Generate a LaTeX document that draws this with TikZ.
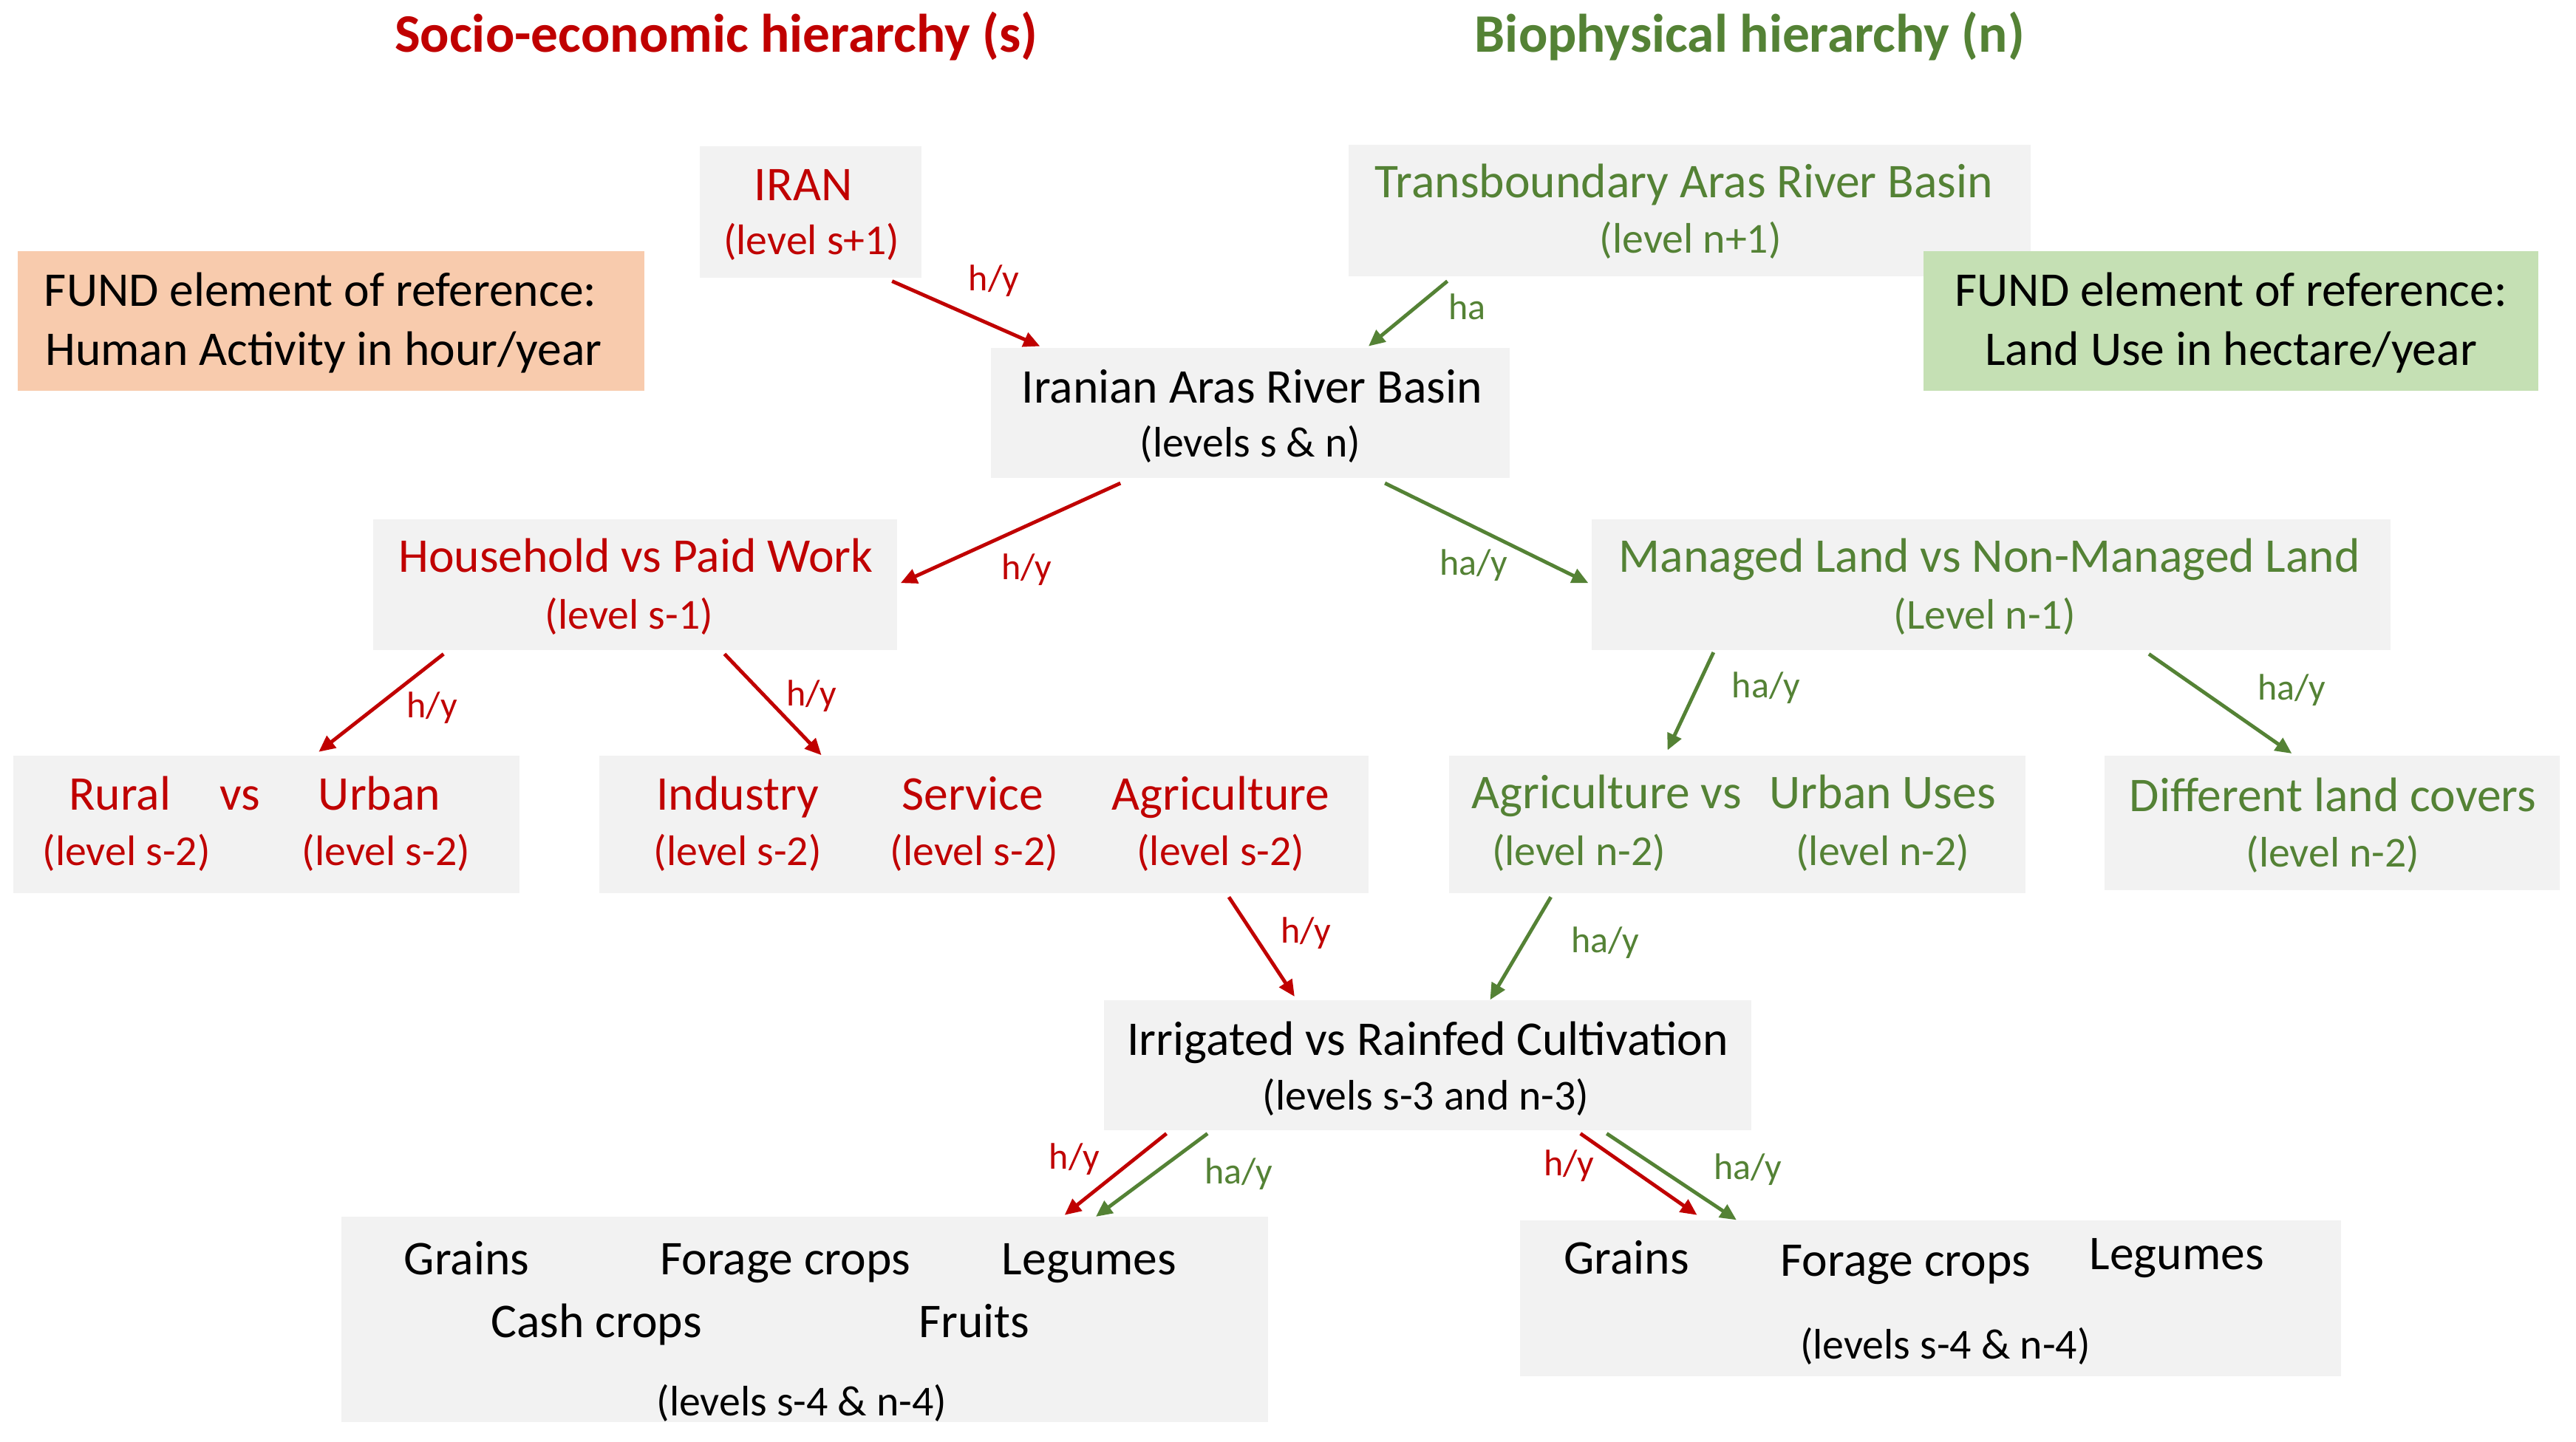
\documentclass[tikz,border=0pt]{standalone}
\usepackage{fontspec}
\setmainfont{Carlito}
\usetikzlibrary{arrows.meta,calc}
\definecolor{rd}{HTML}{C00000}
\definecolor{gn}{HTML}{548235}
\definecolor{bx}{HTML}{F2F2F2}
\definecolor{org}{HTML}{F8CBAD}
\definecolor{lg}{HTML}{C5E0B4}
\begin{document}
\begin{tikzpicture}[x=1pt,y=-1pt,
  box/.style={fill=bx, inner sep=0, draw=none},
  txt/.style={inner sep=0, anchor=base, font=\fontsize{29.5}{35}\selectfont},
  lvl/.style={inner sep=0, anchor=base, font=\fontsize{26}{31}\selectfont},
  lab/.style={inner sep=0, font=\fontsize{22.5}{27}\selectfont},
  ttl/.style={inner sep=0, font=\fontsize{33}{40}\selectfont\bfseries},
  redarr/.style={draw=rd, line width=2.2pt, -{Triangle[length=10pt,width=9pt]}},
  grnarr/.style={draw=gn, line width=2.2pt, -{Triangle[length=10pt,width=9pt]}}]
\useasboundingbox (0,0) rectangle (1568,877.6);
\fill[white] (0,0) rectangle (1568,877.6);

% titles
\node[ttl, text=rd] (t1) at (436,22) {Socio-economic hierarchy (s)};
\node[ttl, text=gn] (t2) at (1065,22) {Biophysical hierarchy (n)};

% boxes
\node[box, minimum width=135pt, minimum height=80pt] (iran) at (493.5,129) {};
\node[box, fill=org, minimum width=381pt, minimum height=85pt] (fundS) at (201.5,195.5) {};
\node[box, minimum width=415pt, minimum height=80pt] (trans) at (1028.5,128) {};
\node[box, fill=lg, minimum width=374pt, minimum height=85pt] (fundN) at (1358,195.5) {};
\node[box, minimum width=316pt, minimum height=79pt] (basin) at (761,251.5) {};
\node[box, minimum width=319pt, minimum height=80pt] (house) at (386.5,356) {};
\node[box, minimum width=486pt, minimum height=80pt] (managed) at (1212,356) {};
\node[box, minimum width=308pt, minimum height=84pt] (rural) at (162,502) {};
\node[box, minimum width=468pt, minimum height=84pt] (isa) at (599,502) {};
\node[box, minimum width=351pt, minimum height=84pt] (agurb) at (1057.5,502) {};
\node[box, minimum width=277pt, minimum height=82pt] (diff) at (1419.5,501) {};
\node[box, minimum width=394pt, minimum height=79pt] (irr) at (869,648.5) {};
\node[box, minimum width=564pt, minimum height=125pt] (cropsA) at (490,803.5) {};
\node[box, minimum width=500pt, minimum height=95pt] (cropsB) at (1175,790.5) {};

% texts
\node[txt, text=rd] (iranA) at (489,122) {IRAN};
\node[lvl, text=rd] (iranB) at (494,155) {(level s+1)};
\node[txt] (fundSA) at (195,186.5) {FUND element of reference:};
\node[txt] (fundSB) at (197,222.5) {Human Activity in hour/year};
\node[txt, text=gn] (transA) at (1025,120.5) {Transboundary Aras River Basin};
\node[lvl, text=gn] (transB) at (1029,154) {(level n+1)};
\node[txt] (fundNA) at (1358,186.5) {FUND element of reference:};
\node[txt] (fundNB) at (1358,222.5) {Land Use in hectare/year};
\node[txt] (basinA) at (762,245.5) {Iranian Aras River Basin};
\node[lvl] (basinB) at (761,278) {(levels s \& n)};
\node[txt, text=rd] (houseA) at (387,348.5) {Household vs Paid Work};
\node[lvl, text=rd] (houseB) at (383,383) {(level s-1)};
\node[txt, text=gn] (managedA) at (1211,348.5) {Managed Land vs Non-Managed Land};
\node[lvl, text=gn] (managedB) at (1208,383) {(Level n-1)};

\node[txt, text=rd] (ruralA) at (73,493) {Rural};
\node[txt, text=rd] (ruralV) at (146,493) {vs};
\node[txt, text=rd] (urbanA) at (231,493) {Urban};
\node[lvl, text=rd] (ruralB) at (77,527) {(level s-2)};
\node[lvl, text=rd] (urbanB) at (235,527) {(level s-2)};

\node[txt, text=rd] (indA) at (449,493) {Industry};
\node[txt, text=rd] (serA) at (592,493) {Service};
\node[txt, text=rd] (agrA) at (743,493) {Agriculture};
\node[lvl, text=rd] (indB) at (449,527) {(level s-2)};
\node[lvl, text=rd] (serB) at (593,527) {(level s-2)};
\node[lvl, text=rd] (agrB) at (743,527) {(level s-2)};

\node[txt, text=gn] (agA) at (978,492.5) {Agriculture vs};
\node[txt, text=gn] (urA) at (1146,492.5) {Urban Uses};
\node[lvl, text=gn] (agB) at (961,527) {(level n-2)};
\node[lvl, text=gn] (urB) at (1146,527) {(level n-2)};

\node[txt, text=gn] (diffA) at (1420,494) {Different land covers};
\node[lvl, text=gn] (diffB) at (1420,528) {(level n-2)};

\node[txt] (irrA) at (869,642.5) {Irrigated vs Rainfed Cultivation};
\node[lvl] (irrB) at (868,676) {(levels s-3 and n-3)};

\node[txt] (c1) at (284,776) {Grains};
\node[txt] (c2) at (478,776) {Forage crops};
\node[txt] (c3) at (663,776) {Legumes};
\node[txt] (c4) at (363,814.5) {Cash crops};
\node[txt] (c5) at (593,814.5) {Fruits};
\node[lvl] (c6) at (488,862) {(levels s-4 \& n-4)};

\node[txt] (d1) at (990,775.5) {Grains};
\node[txt] (d2) at (1160,777) {Forage crops};
\node[txt] (d3) at (1325,773) {Legumes};
\node[lvl] (d4) at (1184,827.5) {(levels s-4 \& n-4)};

% connectors
\draw[redarr] ($(iran.south)+(49.5,2)$) -- ($(basin.north)+(-128,-1)$);
\node[lab, text=rd] (l1) at (605,171) {h/y};
\draw[grnarr] ($(trans.south)+(-147.5,3)$) -- ($(basin.north)+(72,-1)$);
\node[lab, text=gn] (l2) at (893,187) {ha};
\draw[redarr] ($(basin.south)+(-79,3)$) -- ($(house.east)+(2,-1)$);
\node[lab, text=rd] (l3) at (625,347) {h/y};
\draw[grnarr] ($(basin.south)+(82,3)$) -- ($(managed.west)+(-2,-1)$);
\node[lab, text=gn] (l4) at (897,344) {ha/y};
\draw[redarr] ($(house.south)+(-116.5,2)$) -- ($(rural.north)+(32,-2)$);
\node[lab, text=rd] (l5) at (263,431) {h/y};
\draw[redarr] ($(house.south)+(54.5,2)$) -- ($(isa.north)+(-99,0)$);
\node[lab, text=rd] (l6) at (494,424) {h/y};
\draw[grnarr] ($(managed.south)+(-169,1)$) -- ($(agurb.north)+(-42.5,-3)$);
\node[lab, text=gn] (l7) at (1075,419) {ha/y};
\draw[grnarr] ($(managed.south)+(96,2)$) -- ($(diff.north)+(-24.5,-1)$);
\node[lab, text=gn] (l8) at (1395,420) {ha/y};
\draw[redarr] ($(isa.south)+(149,2)$) -- ($(irr.north)+(-81,-2)$);
\node[lab, text=rd] (l9) at (795,568) {h/y};
\draw[grnarr] ($(agurb.south)+(-113.5,2)$) -- ($(irr.north)+(38,0)$);
\node[lab, text=gn] (l10) at (977,574) {ha/y};
\draw[redarr] ($(irr.south)+(-159,2)$) -- ($(cropsA.north)+(158,-1)$);
\node[lab, text=rd] (l11) at (654,706) {h/y};
\draw[grnarr] ($(irr.south)+(-134,2)$) -- ($(cropsA.north)+(177,0)$);
\node[lab, text=gn] (l12) at (754,715) {ha/y};
\draw[redarr] ($(irr.south)+(93,2)$) -- ($(cropsB.north)+(-142,-3)$);
\node[lab, text=rd] (l13) at (955,710) {h/y};
\draw[grnarr] ($(irr.south)+(109,2)$) -- ($(cropsB.north)+(-118,0)$);
\node[lab, text=gn] (l14) at (1064,712) {ha/y};
\end{tikzpicture}
\end{document}
